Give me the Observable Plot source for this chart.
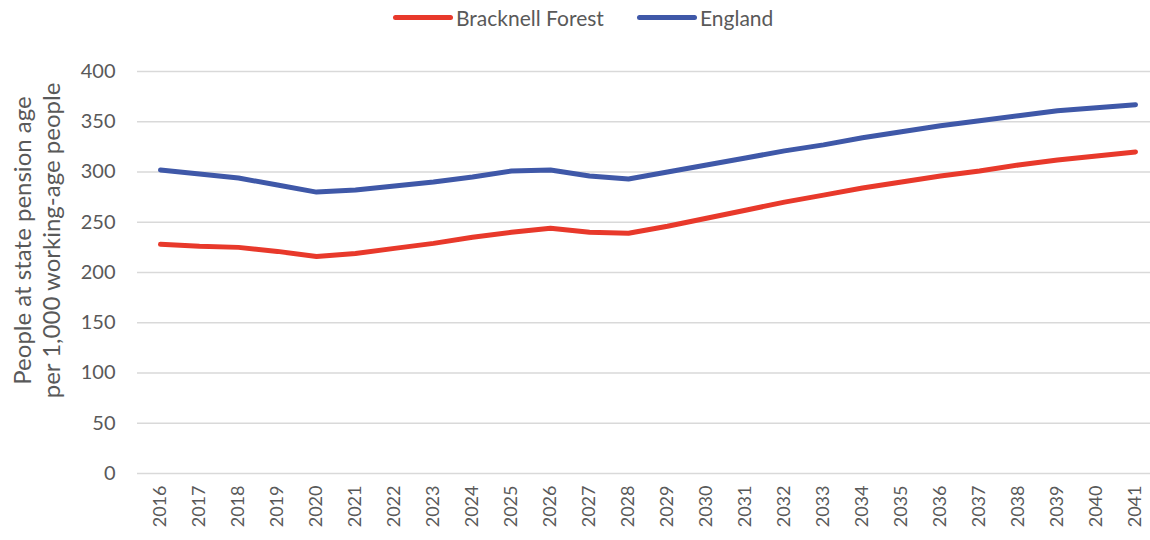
<!DOCTYPE html>
<html>
<head>
<meta charset="utf-8">
<script src="https://cdn.jsdelivr.net/npm/d3@7"></script>
<script src="https://cdn.jsdelivr.net/npm/@observablehq/plot@0.6"></script>
<style>
  body { margin: 0; background: #fff; font-family: Lato, "Open Sans", sans-serif; }
  #legend { position: relative; height: 40px; width: 1150px; color: #595959; font-size: 21px; }
  .item { position: absolute; top: 5px; display: flex; align-items: center; }
  .swatch { width: 60px; height: 5px; border-radius: 3px; margin-right: 3px; }
</style>
</head>
<body>
<div id="legend"></div>
<div id="chart"></div>
<script>
const years = ["2016","2017","2018","2019","2020","2021","2022","2023","2024","2025","2026","2027","2028","2029","2030","2031","2032","2033","2034","2035","2036","2037","2038","2039","2040","2041"];
const bracknell = [228,226,225,221,216,219,224,229,235,240,244,240,239,246,254,262,270,277,284,290,296,301,307,312,316,320];
const england = [302,298,294,287,280,282,286,290,295,301,302,296,293,300,307,314,321,327,334,340,346,351,356,361,364,367];
const seriesNames = ["Bracknell Forest", "England"];
const seriesColors = ["#E8392B", "#3F58A8"];
const yTicks = [0,50,100,150,200,250,300,350,400];
const yTitle = "People at state pension age\nper 1,000 working-age people";

const data = [];
years.forEach((y, i) => {
  data.push({year: y, value: bracknell[i], series: seriesNames[0]});
  data.push({year: y, value: england[i], series: seriesNames[1]});
});

// legend
const legend = document.getElementById("legend");
const legendX = [393, 637];
seriesNames.forEach((name, i) => {
  const d = document.createElement("div");
  d.className = "item";
  d.style.left = legendX[i] + "px";
  d.innerHTML = `<span class="swatch" style="background:${seriesColors[i]}"></span><span>${name}</span>`;
  legend.appendChild(d);
});

const chart = Plot.plot({
  width: 1150,
  height: 500,
  marginTop: 31,
  marginBottom: 67,
  marginLeft: 137,
  marginRight: 0,
  style: {fontFamily: "Lato, 'Open Sans', sans-serif", fontSize: "18px", color: "#595959", background: "#fff", overflow: "visible"},
  x: {type: "point", domain: years, range: [157, 1138], padding: 0, label: null},
  y: {domain: [0, 400], ticks: yTicks, label: null},
  color: {domain: seriesNames, range: seriesColors},
  marks: [
    Plot.ruleY(yTicks, {stroke: "#d9d9d9", strokeWidth: 1.5}),
    Plot.axisY({ticks: yTicks, tickSize: 0, tickPadding: 22, label: null, fontSize: 20}),
    Plot.axisX({tickSize: 0, tickRotate: -90, tickPadding: 12, label: null, fontSize: 18}),
    Plot.line(data, {x: "year", y: "value", z: "series", stroke: "series", strokeWidth: 5, strokeLinecap: "round", strokeLinejoin: "round"}),
    Plot.text([yTitle], {frameAnchor: "left", dx: -101, dy: -32, textAnchor: "middle", rotate: -90, fontSize: 24, fill: "#595959", lineHeight: 1.2})
  ]
});
document.getElementById("chart").appendChild(chart);
</script>
</body>
</html>
